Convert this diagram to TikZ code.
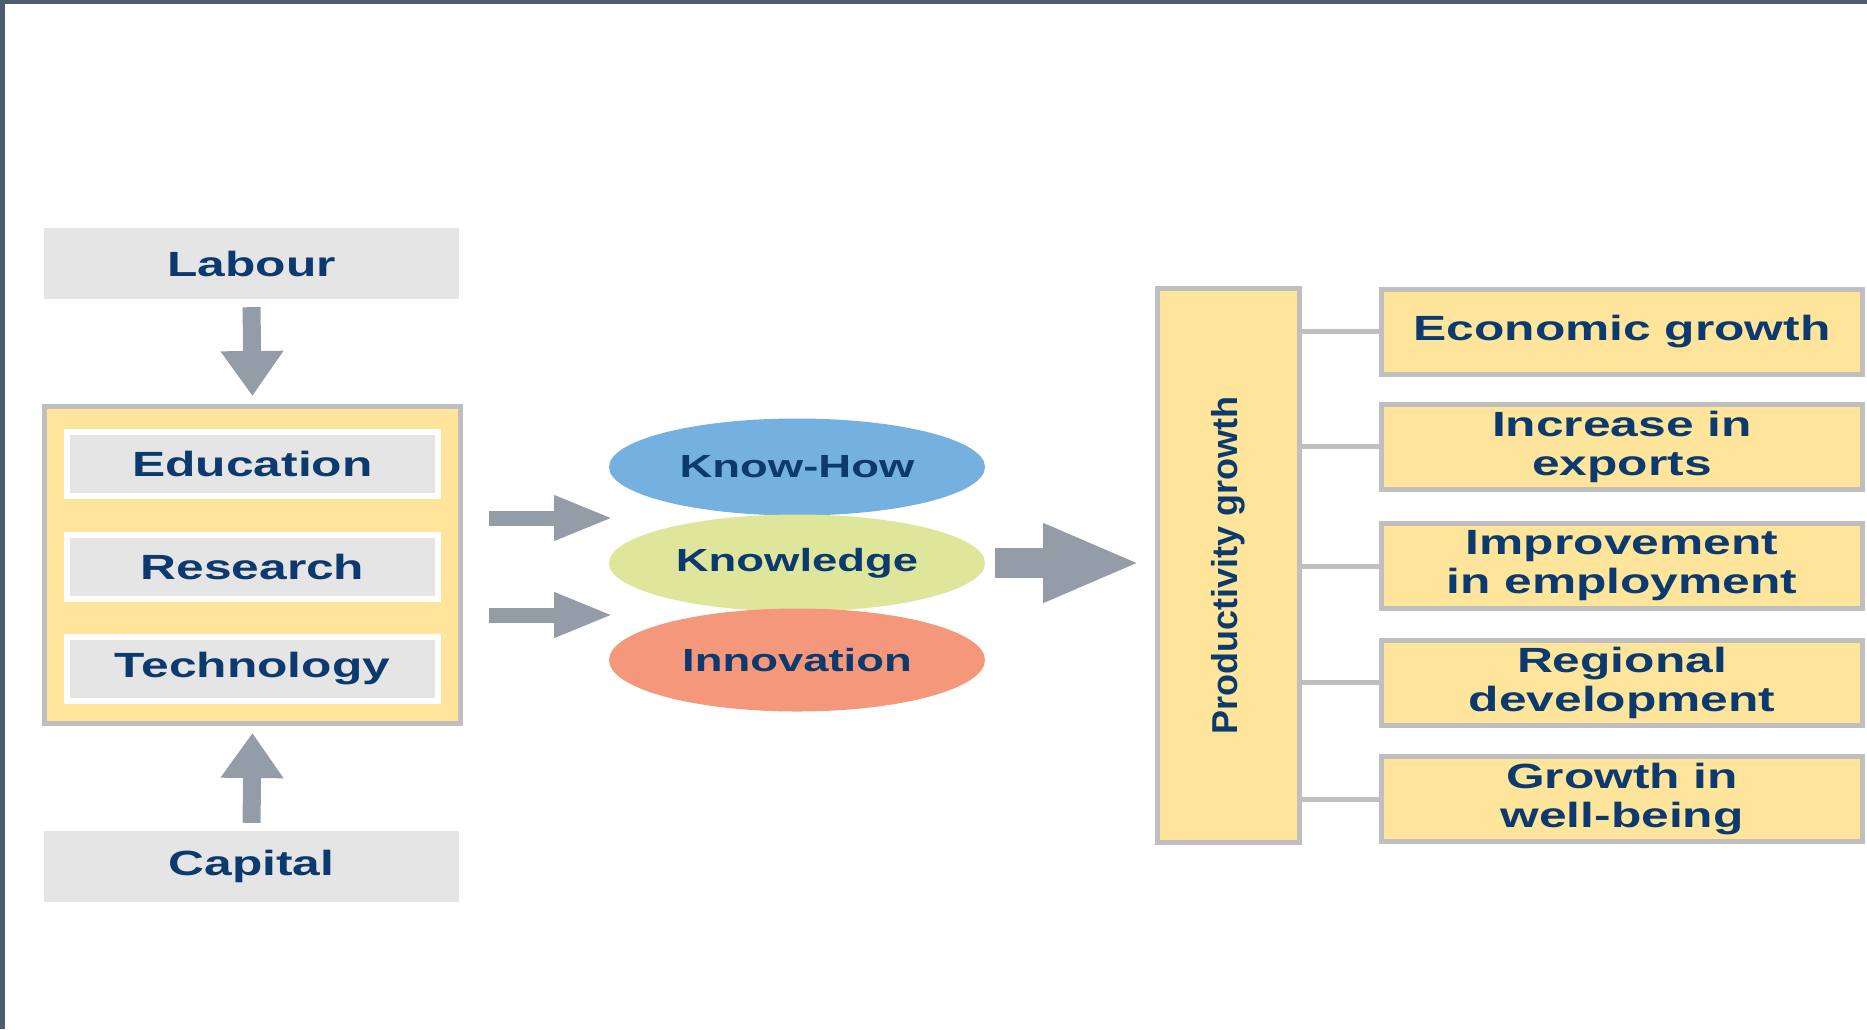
\documentclass[tikz,border=0pt]{standalone}
\usepackage{fontspec}
\usetikzlibrary{arrows.meta,shapes.geometric}
\newfontfamily\diagfont{Liberation Sans}[FakeStretch=1.42]
\newfontfamily\rotfont{Liberation Sans}
\definecolor{navytext}{HTML}{0D3A6E}
\definecolor{boxgray}{HTML}{E5E5E5}
\definecolor{bordergray}{HTML}{BFBFBF}
\definecolor{paleyellow}{HTML}{FEE59B}
\definecolor{arrowgray}{HTML}{949CA7}
\definecolor{framegray}{HTML}{4E5C72}
\definecolor{knowhowblue}{HTML}{74B0E0}
\definecolor{knowgreen}{HTML}{DDE69B}
\definecolor{innosalmon}{HTML}{F4977A}

\begin{document}
\begin{tikzpicture}[x=1pt, y=-1pt,
    every node/.style={font=\diagfont\bfseries\fontsize{35}{39}\selectfont,
        text=navytext, inner sep=0pt, align=center},
    inputbox/.style={fill=boxgray, minimum width=415pt, minimum height=71pt},
    factorbox/.style={fill=boxgray, draw=white, line width=6pt,
        minimum width=371pt, minimum height=64pt},
    yellowbox/.style={fill=paleyellow, draw=bordergray, line width=5pt},
    outcomebox/.style={yellowbox, minimum width=481pt, minimum height=85pt},
    blob/.style={ellipse, minimum width=376pt, minimum height=97pt,
        font=\diagfont\bfseries\fontsize{32}{36}\selectfont},
    fatarrow/.style={arrowgray, line width=18pt, -{Triangle[width=60pt,length=45pt]}},
    thinarrow/.style={arrowgray, line width=15pt, -{Triangle[width=41pt,length=60pt]}},
    bigarrow/.style={arrowgray, line width=30pt, -{Triangle[width=72pt,length=98pt]}},
    linkline/.style={bordergray, line width=5pt}
]
    \useasboundingbox (0,0) rectangle (1867,1029);

    % Frame edges
    \fill[framegray] (0,0) rectangle (5,1029);
    \fill[framegray] (0,0) rectangle (1867,4);

    % Inputs
    \node[inputbox] (labour) at (251.5,263.5) {Labour};
    \node[inputbox] (capital) at (251.5,866.5) {Capital};

    % Factor group
    \node[yellowbox, minimum width=416pt, minimum height=317pt] (group) at (252.5,565) {};
    \node[factorbox] (edu) at (252.5,464) {Education};
    \node[factorbox] (research) at (252.5,566.5) {Research};
    \node[factorbox] (tech) at (252.5,669) {Technology};

    \draw[fatarrow, shorten <=8pt, shorten >=8pt] (labour.south) -- (group.north);
    \draw[fatarrow, shorten <=8pt, shorten >=7pt] (capital.north) -- (group.south);

    % Ellipses
    \node[blob, fill=knowhowblue] (knowhow) at (797,467) {Know-How};
    \node[blob, fill=knowgreen] (knowledge) at (797,563) {Knowledge};
    \node[blob, fill=innosalmon, minimum height=103pt] (innovation) at (797,660) {Innovation};

    % Arrows into the ellipses
    \coordinate (inA) at (614,518);
    \coordinate (inB) at (614,615);
    \draw[thinarrow, shorten <=26pt] (group.east |- inA) -- (inA);
    \draw[thinarrow, shorten <=26pt] (group.east |- inB) -- (inB);

    % Productivity growth
    \node[yellowbox, minimum width=142pt, minimum height=554pt] (prod) at (1228.5,565.5) {};
    \node[rotate=90, font=\rotfont\bfseries\fontsize{36}{40}\selectfont] (prodlabel)
        at (prod.center) {Productivity growth};

    \draw[bigarrow, shorten <=10pt, shorten >=14pt] (knowledge.east) -- (knowledge.east -| prod.west);

    % Outcomes
    \node[outcomebox] (econ) at (1622,331.5) {Economic growth};
    \node[outcomebox] (exports) at (1622,446.5) {Increase in\\exports};
    \node[outcomebox] (employ) at (1622,566) {Improvement\\in employment};
    \node[outcomebox] (region) at (1622,682.5) {Regional\\development};
    \node[outcomebox] (wellbeing) at (1622,799) {Growth in\\well-being};

    \foreach \n in {econ,exports,employ,region,wellbeing}
        \draw[linkline] (\n.west) -- (\n.west -| prod.east);

\end{tikzpicture}
\end{document}
